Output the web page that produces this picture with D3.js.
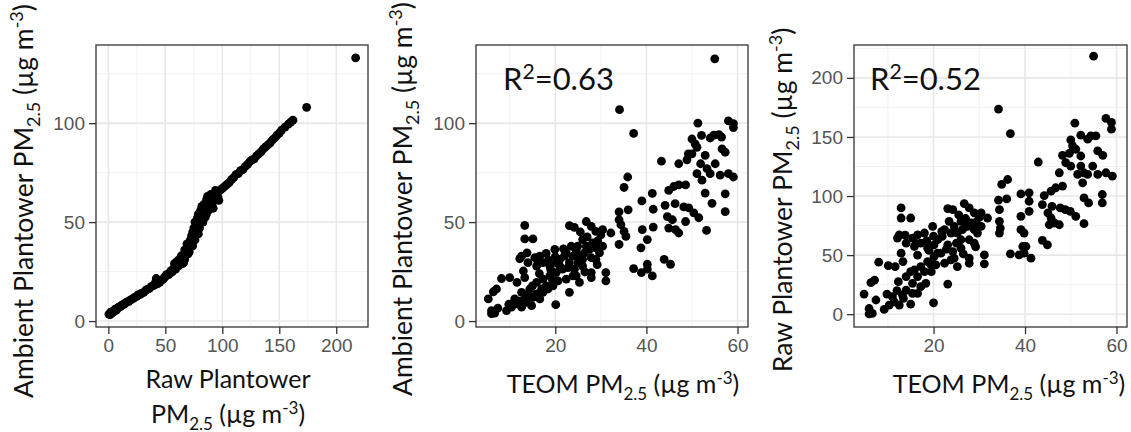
<!DOCTYPE html>
<html>
<head>
<meta charset="utf-8">
<script src="https://cdn.jsdelivr.net/npm/d3@7"></script>
<style>
  body { margin: 0; background: #fff; }
  .tick text { font-family: "Liberation Sans", Arial, sans-serif; }
</style>
</head>
<body>
<svg width="1131" height="432"></svg>
<script>
// panel 1: raw plantower vs ambient plantower
var p1Points = [
  [0.5,3.5],[1.5,3.2],[2,4.5],[3,4],[4,5],[5,4.8],[6,6],[7,5.5],[8,6.5],[9,7],[10,7.2],[11,7.5],
  [12,8],[13,8.4],[14,8.5],[15,9.2],[16,9.5],[18,10],[19,10.5],[20,10.8],[22,11.5],[23,12],[25,12.5],
  [26,13.2],[28,13.5],[29,14],[31,14.5],[33,15.5],[34,16],[36,16.5],[38,17.5],[40,18],[41,19],[42,21.5],
  [43,18.8],[45,19.5],[46,20.5],[48,21],[49,22],[50,22.5],[51,23.5],[53,23.5],[54,24.5],[55,25.5],
  [56,24.8],[57,26],[58,27],[59,26.2],[60,27.5],[61,28.5],[62,28],[63,29.5],[64,30],[65,29],[65,31.5],
  [66,32.5],[67,31],[68,33.5],[68,35],[69,36],[70,34],[70,37.5],[71,39],[72,38],[72,41],[73,40],[73,43],
  [74,42],[74,45],[75,44],[75,47],[76,46],[76,41],[77,48],[77,50],[78,45],[78,52],[79,49],[79,54],
  [80,51],[80,47],[81,53],[81,56],[82,50],[82,58],[83,55],[84,52],[84,59],[85,57],[86,54],[86,61],
  [87,58],[88,60],[88,56],[89,62],[90,59],[91,63],[92,61],[93,64],[94,62],[95,65],[96,63],[98,66],
  [67,36],[69,39],[71,35],[74,38],[76,50],[79,44],[83,50],[87,63],[90,64],[92,57],[94,66],[97,61],
  [60,30],[62,31],[64,33],[66,29.5],[58,29],[85,52.5],[89,57],[91,59],
  [100,67],[102,68],[104,69],[106,70],[108,71.5],[110,72.5],[112,74],[114,74.5],[116,76],[118,76.5],
  [120,78],[122,79],[124,80.5],[126,81.5],[128,82],[130,83.5],[132,84.5],[134,85.5],[136,87],[138,88],
  [140,89],[142,90],[144,91.5],[146,92.5],[148,94],[150,95],[152,96.5],[155,98],[158,99.5],[160,100.5],
  [162,101.5],[174,108],[217,133]
];

// panel 2: TEOM vs ambient plantower
var p2Points = [
  [55.0,132.5],[34.1,106.8],[37.2,94.8],[51.3,100],[58.0,101.2],[59.1,99.8],[59.1,97.8],
  [52.1,93.8],[54.8,94],[55.9,94.2],[54,92.5],[56.5,93],[50,92],[50.7,89.5],[51.1,87.8],
  [49.2,84.5],[50,84.5],[52.9,83.7],[56.6,87],[57.3,85.3],[43.3,80.8],
  [47.1,79.5],[48.9,81.5],[51.9,79.5],[53.3,77],[55.1,79.5],[54,74.5],[51.1,74.5],[52.2,71.2],
  [56.2,73.7],[58,74.5],[59.1,72.8],[35.9,72.8],[35.1,67.5],
  [52.9,64.7],[57.3,64.3],[54.4,59.5],[57.3,55.3],
  [44.9,66],[46,68],[47.1,68.8],[48.6,68.8],[41.3,64.5],[39,60.7],
  [44.1,58.5],[46.3,59.3],[48.2,57.7],[49.3,57.2],[50.4,54.7],[51.5,52.2],
  [41.5,56.5],[41.5,47.5],[44.6,52.8],[45.7,51.2],[44.9,47],[46.4,46.2],[47.1,44.5],[48.6,50.3],
  [53.2,45.8],[36,56.2],[34,55.2],[34,51.2],[34.4,48.7],[35.1,45.3],[35.5,42.8],[34,38.7],
  [39.1,46.2],[38.8,37],[40.2,41.2],[37.2,26.5],[38.9,24.5],[40.2,28.7],[41.3,22.8],[40.2,26.2],
  [43.9,31.2],[45.3,28.7],
  [13.3,48.3],[13.3,41.5],[15.1,41.5],[23.1,48.2],[24.2,47.3],[26.8,50.3],[27.9,47.8],[28.9,45.3],
  [30.4,46.2],[32.2,44.5],[23.5,37.8],[24.9,37.8],[26,41.2],[26.8,37.8],[28.2,39.5],[28.9,37],
  [29.7,34.5],[30.4,37.8],[27.9,32],[28.9,31.2],[31.1,24.5],[31.1,20.3],[27.9,24.5],[27.9,22],
  [25.3,19.5],[24.6,22.8],[23.1,14.5],[20.1,8.3],[19.9,36.2],[18,34.2],[16.6,32.8],[15.5,32],
  [12.6,32.8],[12.2,31.5],[14,29.5],[15.9,27.8],[17.3,29.5],[18.8,27.8],[20.2,29.5],[21,31.2],
  [22,32.8],[23.1,29.5],[21.6,26.2],[20.2,24.5],[18.8,22.8],[17.3,21.2],[15.9,19.5],[13,25.3],
  [13.3,22],[11.6,19.5],[14.4,16.2],[12.6,14.5],[15.9,13.7],[17,16.2],[18,17.8],[19.5,17.8],
  [20.6,20.3],[22.4,21.2],[23.9,22.8],[24.2,26.2],[26,27.8],[25,29.5],[8.2,21.5],[10,22],
  [6.4,14.8],[5.3,11.2],[7.1,16.2],[6,5.3],[6.7,4],[6,3.7],[9.3,5.3],[10.4,7],[11.5,8.7],
  [12.6,7],[13.7,9.5],[14.8,7.8],[15.1,12],[11.1,11.2],[13.3,11.2],[14,13.7],[16.6,11.2],
  [17.3,14.5],[18.4,16.2],[21,27.8],[22.4,34.5],[23.9,32.8],[25.3,32.8],[26.4,34.5],[27.5,36.2],
  [26,31.2],[19,26],[16.5,24],[20,32.5],[22.8,27],[24.6,35.5],[27,42.5],[29.3,40.5],[30,43.5],
  [25.5,45],[21.8,36.5],[19.4,20.5],[15,17.8],[12,10],[9.8,8.5],[16.2,29.8],[13.8,34.5],
  [18.5,30.8],[26.5,24.8],[29.2,28.5],[7.4,6.5]
];

// panel 3: TEOM vs raw plantower
var p3Points = [
  [55,218.4],[34.2,173.6],[36.8,152.9],[50.9,161.7],[57.7,165.7],[58.9,162.3],[58.9,156.6],
  [52.2,151.5],[54.4,150.9],[55.5,150.9],[53.7,148.1],[50,147.5],[50.4,142.4],[51.1,139.6],
  [48.2,134.5],[49.7,136.2],[52.2,133.9],[55.9,138.2],[57,134.5],[42.9,128.8],
  [47.5,119.7],[50,125.4],[52.2,125.4],[52.9,119.7],[54.8,125.4],[53.7,118.3],[51.5,118.3],
  [52.6,111.2],[55.9,118.3],[57.7,119.7],[59.1,116.9],[48.9,128.2],[36.2,114],[34.9,109.8],
  [52.9,98.4],[56.9,101.3],[53.9,94.2],[56.9,94.2],[44.2,100.4],[45.7,104.1],[46.7,107],[48.2,108.4],
  [40.9,102.7],[39.1,101.8],[43.8,92.8],[45.9,91.3],[47.7,89.9],[48.8,88.5],[49.9,87.1],[51.1,82.8],
  [40.9,95.6],[40.9,87.1],[45,85.7],[45.7,81.4],[45.3,75.7],[46.4,77.2],[47.5,75.7],[52.9,76.6],
  [36,97.6],[34.2,96.5],[34.4,88.5],[34.4,78.6],[34.6,72.9],[34.4,68.7],
  [39.1,82.8],[39.1,71.5],[39.8,68.7],[39.5,57.3],[36.8,51.1],[38.7,50.2],[40.2,57.3],[41.3,47.4],
  [39.8,51.6],[43.8,62.4],[44.9,58.7],
  [12.9,89.9],[12.9,81.4],[15,81.4],[23.1,89.4],[24.2,88.5],[26.7,93.6],[27.8,89.9],[28.9,85.7],
  [30.4,85.7],[31.8,81.4],[23.4,78.6],[24.5,74.3],[26,78.6],[27.1,74.3],[28.2,77.2],[28.9,71.5],
  [29.6,68.7],[30.4,74.3],[27.8,63],[28.9,60.1],[31.1,50.2],[31.1,42.6],[27.8,47.4],[27.8,43.1],
  [25.2,40.3],[24.5,47.4],[23.1,25.5],[20,9.6],[19.8,74.3],[18,68.7],[16.5,67.2],[15.4,64.4],
  [12.5,67.2],[12.1,64.4],[14,60.1],[15.8,57.3],[17.2,60.1],[18.7,55.9],[20.1,58.7],[20.9,63],
  [21.9,65.8],[23.1,58.7],[21.6,51.6],[20.1,48.8],[18.7,44.5],[17.2,40.3],[15.8,37.4],[12.9,51.6],
  [13.3,44.5],[11.6,40.3],[14,31.8],[12.3,27.5],[15.4,26.1],[16.5,31.8],[18,36],[19.5,36],
  [20.5,41.7],[22.4,43.1],[23.8,46],[24.2,53],[26,55.9],[25,60.1],[8,44],[10.1,41.1],
  [6.3,26.7],[4.8,17],[7.1,28.9],[5.9,4.8],[6.6,0.6],[5.9,0.2],[9.2,4],[10.3,7.7],[11.4,10.5],
  [12.5,7.7],[13.4,13.3],[15,8.5],[15.4,17.6],[11,14.8],[13.2,16.2],[14,20.4],[16.5,17.6],
  [17.2,23.3],[18.3,26.1],[20.9,51.6],[22.4,71.5],[23.8,68.7],[25.2,68.7],[26.3,71.5],[27.4,74.3],
  [26,63],[19,54],[16.5,50],[20,66],[22.8,55],[24.6,70],[27,81],[29.3,78],[30,82],
  [25.5,84],[21.8,70],[19.4,42],[15,36],[12,20],[9.8,17],[16.2,60],[13.8,67],
  [18.5,62],[26.5,51],[29.2,57],[7.4,12]
];

// axis ticks
var p1XTicks = [0, 50, 100, 150, 200];
var p1YTicks = [0, 50, 100];
var teomTicks = [20, 40, 60];
var rawTicks = [0, 50, 100, 150, 200];

var svg = d3.select('svg');
var titleFont = 'Lato, "Open Sans", sans-serif';

// write text with sub/superscript pieces
function richText(sel, parts, size) {
  var shift = 0;
  parts.forEach(function(p) {
    var t = sel.append('tspan').text(p[0]);
    var target = 0;
    if (p[1] == 'sub') target = size * 0.26;
    if (p[1] == 'sup') target = -size * 0.36;
    if (p[1]) t.attr('font-size', size * 0.68);
    t.attr('dy', target - shift);
    shift = target;
  });
}

function drawPanel(cfg) {
  var x = d3.scaleLinear().domain(cfg.xDomain).range([cfg.left, cfg.right]);
  var y = d3.scaleLinear().domain(cfg.yDomain).range([cfg.bottom, cfg.top]);
  var g = svg.append('g');

  // minor grid
  g.selectAll('.xminor').data(cfg.xMinor).enter().append('line')
    .attr('x1', function(d) { return x(d); }).attr('x2', function(d) { return x(d); })
    .attr('y1', cfg.top).attr('y2', cfg.bottom)
    .attr('stroke', '#f0f0f0').attr('stroke-width', 0.9);
  g.selectAll('.yminor').data(cfg.yMinor).enter().append('line')
    .attr('y1', function(d) { return y(d); }).attr('y2', function(d) { return y(d); })
    .attr('x1', cfg.left).attr('x2', cfg.right)
    .attr('stroke', '#f0f0f0').attr('stroke-width', 0.9);
  // major grid
  g.selectAll('.xmajor').data(cfg.xTicks).enter().append('line')
    .attr('x1', function(d) { return x(d); }).attr('x2', function(d) { return x(d); })
    .attr('y1', cfg.top).attr('y2', cfg.bottom)
    .attr('stroke', '#e8e8e8').attr('stroke-width', 1.6);
  g.selectAll('.ymajor').data(cfg.yTicks).enter().append('line')
    .attr('y1', function(d) { return y(d); }).attr('y2', function(d) { return y(d); })
    .attr('x1', cfg.left).attr('x2', cfg.right)
    .attr('stroke', '#e8e8e8').attr('stroke-width', 1.6);

  g.selectAll('circle').data(cfg.points).enter().append('circle')
    .attr('cx', function(d) { return x(d[0]); })
    .attr('cy', function(d) { return y(d[1]); })
    .attr('r', 4.4)
    .attr('fill', '#000');

  g.append('rect')
    .attr('x', cfg.left).attr('y', cfg.top)
    .attr('width', cfg.right - cfg.left).attr('height', cfg.bottom - cfg.top)
    .attr('fill', 'none').attr('stroke', '#333').attr('stroke-width', 1.3);

  var ax = g.append('g')
    .attr('transform', 'translate(0,' + cfg.bottom + ')')
    .call(d3.axisBottom(x).tickValues(cfg.xTicks).tickSize(7).tickPadding(5));
  var ay = g.append('g')
    .attr('transform', 'translate(' + cfg.left + ',0)')
    .call(d3.axisLeft(y).tickValues(cfg.yTicks).tickSize(7).tickPadding(4));
  [ax, ay].forEach(function(a) {
    a.select('.domain').remove();
    a.selectAll('.tick line').attr('stroke', '#333').attr('stroke-width', 1.3);
    a.selectAll('.tick text').attr('fill', '#555').style('font-size', '19px');
  });

  if (cfg.r2) {
    var r = g.append('text').attr('x', cfg.r2x).attr('y', 90)
      .style('font-family', titleFont).style('font-size', '31px').attr('fill', '#111');
    richText(r, [['R', ''], ['2', 'sup'], ['=' + cfg.r2, '']], 31);
  }
}

drawPanel({
  left: 96, right: 368, top: 45, bottom: 327,
  xDomain: [-10.85, 227.85], yDomain: [-3, 139.5],
  xTicks: p1XTicks, yTicks: p1YTicks,
  xMinor: [25, 75, 125, 175], yMinor: [25, 75, 125],
  points: p1Points
});
drawPanel({
  left: 476, right: 748, top: 45, bottom: 327,
  xDomain: [2.6, 62.3], yDomain: [-3, 139.5],
  xTicks: teomTicks, yTicks: p1YTicks,
  xMinor: [10, 30, 50], yMinor: [25, 75, 125],
  points: p2Points, r2: '0.63', r2x: 503
});
drawPanel({
  left: 854, right: 1127, top: 45, bottom: 327,
  xDomain: [2.6, 62.3], yDomain: [-10.85, 227.85],
  xTicks: teomTicks, yTicks: rawTicks,
  xMinor: [10, 30, 50], yMinor: [25, 75, 125, 175, 225],
  points: p3Points, r2: '0.52', r2x: 870
});

// axis titles
function title(x, y, rotate, parts, ts) {
  var t = svg.append('text')
    .attr('text-anchor', 'middle')
    .style('font-family', titleFont).style('font-size', ts + 'px').attr('fill', '#111');
  if (rotate) t.attr('transform', 'translate(' + x + ',' + y + ') rotate(-90)');
  else t.attr('x', x).attr('y', y);
  richText(t, parts, ts);
}
var pmUnit = [['PM', ''], ['2.5', 'sub'], [' (µg m', ''], ['-3', 'sup'], [')', '']];

title(33, 201, true, [['Ambient Plantower ', '']].concat(pmUnit), 26.5);
title(412, 199, true, [['Ambient Plantower ', '']].concat(pmUnit), 26.5);
title(792, 200, true, [['Raw Plantower ', '']].concat(pmUnit), 26.5);
title(228, 388, false, [['Raw Plantower', '']], 25);
title(228, 423, false, pmUnit, 25);
title(623, 393, false, [['TEOM ', '']].concat(pmUnit), 25);
title(1009, 393, false, [['TEOM ', '']].concat(pmUnit), 25);
</script>
</body>
</html>
